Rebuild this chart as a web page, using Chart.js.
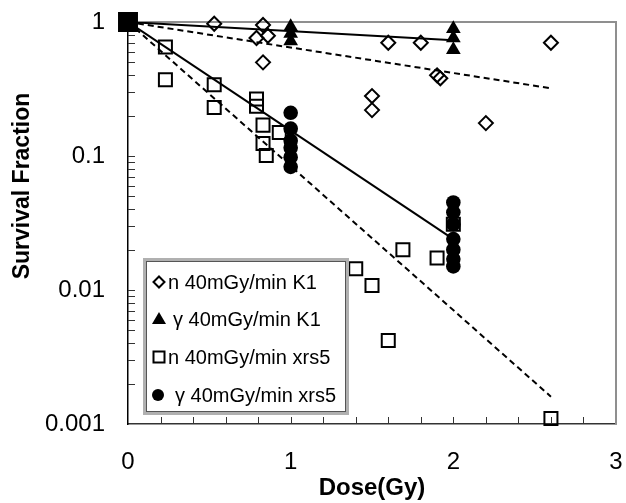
<!DOCTYPE html>
<html><head><meta charset="utf-8">
<script src="https://cdn.jsdelivr.net/npm/chart.js@4"></script>
<style>html,body{margin:0;padding:0;background:#fff}#wrap{width:626px;height:503px}</style>
</head><body><div id="wrap"><canvas id="c" width="626" height="503"></canvas></div>
<script>
// ---- data ----
const nK1Dose = [0.53, 0.83, 0.79, 0.86, 0.83, 1.50, 1.50, 1.60, 1.80, 1.90, 1.92, 2.20, 2.60];
const nK1SF   = [0.97, 0.95, 0.76, 0.79, 0.50, 0.28, 0.22, 0.70, 0.70, 0.40, 0.38, 0.176, 0.70];

const gK1Dose = [1, 1, 1, 2, 2, 2];
const gK1SF   = [0.92, 0.82, 0.72, 0.89, 0.76, 0.62];

const nXrs5Dose = [0, 0.23, 0.23, 0.53, 0.53, 0.79, 0.79, 0.83, 0.83, 0.85, 0.93, 1.40, 1.50, 1.60, 1.69, 1.90, 2.00, 2.60];
const nXrs5SF   = [1, 0.65, 0.37, 0.34, 0.23, 0.266, 0.235, 0.17, 0.124, 0.101, 0.15, 0.0144, 0.0108, 0.0042, 0.020, 0.0173, 0.031, 0.0011];

const gXrs5Dose = [1, 1, 1, 1, 1, 1, 2, 2, 2, 2, 2, 2, 2];
const gXrs5SF   = [0.21, 0.16, 0.13, 0.115, 0.098, 0.083, 0.045, 0.038, 0.031, 0.024, 0.020, 0.017, 0.015];

const fitK1SolidDose = [0, 2];     const fitK1SolidSF = [1, 0.73];
const fitK1DashDose  = [0, 2.6];   const fitK1DashSF  = [1, 0.32];
const fitXrsSolidDose = [0, 2];    const fitXrsSolidSF = [1, 0.024];
const fitXrsDashDose  = [0, 2.6];  const fitXrsDashSF  = [1, 0.0016];

const xTickValues = [0, 1, 2, 3];
const xTickLabels = ['0', '1', '2', '3'];
const yTickValues = [0.001, 0.01, 0.1, 1];
const yTickLabels = ['0.001', '0.01', '0.1', '1'];

const xTitle = 'Dose(Gy)';
const yTitle = 'Survival Fraction';
const legendLabels = ['n 40mGy/min K1', 'γ 40mGy/min K1', 'n 40mGy/min xrs5', 'γ 40mGy/min xrs5'];

const pts = (xs, ys) => xs.map((x, i) => ({x, y: ys[i]}));
const FONT = "'Liberation Sans', Arial, sans-serif";

// ---- plugins ----
const framePlugin = {
  id: 'frame',
  beforeDatasetsDraw(chart) {
    const {ctx, chartArea: a, scales: {x, y}} = chart;
    ctx.save();
    ctx.strokeStyle = '#8f8f8f'; ctx.lineWidth = 2;
    ctx.beginPath();
    ctx.moveTo(a.left, a.top); ctx.lineTo(a.right, a.top); ctx.lineTo(a.right, a.bottom);
    ctx.stroke();
    ctx.strokeStyle = '#333'; ctx.lineWidth = 1;
    ctx.beginPath();
    for (let k = 1; k < 15; k++) {
      const px = Math.round(x.getPixelForValue(k * 0.2)) + 0.5;
      ctx.moveTo(px, a.bottom); ctx.lineTo(px, a.bottom - 7);
    }
    for (let d = -3; d <= -1; d++) {
      for (let m = 2; m <= 10; m++) {
        const py = Math.round(y.getPixelForValue(m * Math.pow(10, d))) + 0.5;
        ctx.moveTo(a.left, py); ctx.lineTo(a.left + 7, py);
      }
    }
    ctx.stroke();
    ctx.fillStyle = '#000';
    ctx.font = 'bold 23px ' + FONT;
    ctx.textAlign = 'center'; ctx.textBaseline = 'middle';
    ctx.translate(23, 186);
    ctx.rotate(-Math.PI / 2);
    ctx.fillText(yTitle, 0, 0);
    ctx.restore();
  },
  afterDraw(chart) {
    const {ctx} = chart;
    const bx = 145, by = 260, bw = 202, bh = 153;
    ctx.save();
    ctx.fillStyle = '#fff';
    ctx.fillRect(bx, by, bw, bh);
    ctx.strokeStyle = '#b0b0b0'; ctx.lineWidth = 4;
    ctx.strokeRect(bx, by, bw, bh);
    ctx.strokeStyle = '#555'; ctx.lineWidth = 1;
    ctx.strokeRect(bx + 1.5, by + 1.5, bw - 3, bh - 3);
    const rows = [282, 319, 357, 395];
    const mx = 159;
    ctx.fillStyle = '#000'; ctx.strokeStyle = '#000'; ctx.lineWidth = 2;
    ctx.beginPath();
    ctx.moveTo(mx, rows[0] - 5.5); ctx.lineTo(mx + 5.5, rows[0]); ctx.lineTo(mx, rows[0] + 5.5); ctx.lineTo(mx - 5.5, rows[0]); ctx.closePath();
    ctx.stroke();
    ctx.beginPath();
    ctx.moveTo(mx, rows[1] - 7); ctx.lineTo(mx + 7, rows[1] + 5); ctx.lineTo(mx - 7, rows[1] + 5); ctx.closePath();
    ctx.fill();
    ctx.strokeRect(mx - 5.5, rows[2] - 5.5, 11, 11);
    ctx.beginPath(); ctx.arc(mx - 1, rows[3], 6, 0, Math.PI * 2); ctx.fill();
    ctx.font = '20px ' + FONT;
    ctx.textBaseline = 'middle'; ctx.textAlign = 'left';
    const tx = [168, 173, 168, 175];
    legendLabels.forEach((t, i) => ctx.fillText(t, tx[i], rows[i] + 1));
    ctx.restore();
  }
};

Chart.defaults.color = '#000';
Chart.defaults.font.family = FONT;

const hiddenGrid = len => ({display: true, drawOnChartArea: false, drawTicks: true, tickLength: len, color: 'rgba(0,0,0,0)'});

new Chart(document.getElementById('c'), {
  type: 'scatter',
  data: {
    datasets: [
      {label: legendLabels[0], data: pts(nK1Dose, nK1SF), pointStyle: 'rectRot', pointRadius: 7,
       pointBorderWidth: 2, pointBorderColor: '#000', pointBackgroundColor: 'rgba(0,0,0,0)', clip: false},
      {label: legendLabels[1], data: pts(gK1Dose, gK1SF), pointStyle: 'triangle', pointRadius: 8.5,
       pointBorderWidth: 0, pointBorderColor: '#000', pointBackgroundColor: '#000', clip: false},
      {label: legendLabels[2], data: pts(nXrs5Dose, nXrs5SF), pointStyle: 'rect',
       pointRadius: nXrs5Dose.map(d => d === 0 ? 12.7 : 9.2),
       pointBorderWidth: 2, pointBorderColor: '#000',
       pointBackgroundColor: nXrs5Dose.map(d => d === 0 ? '#000' : 'rgba(0,0,0,0)'), clip: false},
      {label: legendLabels[3], data: pts(gXrs5Dose, gXrs5SF), pointStyle: 'circle', pointRadius: 7.3,
       pointBorderWidth: 0, pointBackgroundColor: '#000', clip: false},
      {data: pts(fitK1SolidDose, fitK1SolidSF), showLine: true, pointRadius: 0, borderColor: '#000', borderWidth: 2},
      {data: pts(fitK1DashDose, fitK1DashSF), showLine: true, pointRadius: 0, borderColor: '#000', borderWidth: 2, borderDash: [6, 4]},
      {data: pts(fitXrsSolidDose, fitXrsSolidSF), showLine: true, pointRadius: 0, borderColor: '#000', borderWidth: 2},
      {data: pts(fitXrsDashDose, fitXrsDashSF), showLine: true, pointRadius: 0, borderColor: '#000', borderWidth: 2, borderDash: [6, 4]}
    ]
  },
  options: {
    responsive: false,
    animation: false,
    events: [],
    layout: {autoPadding: false, padding: {top: 22, right: 10, left: 0, bottom: 0}},
    plugins: {legend: {display: false}, tooltip: {enabled: false}},
    scales: {
      x: {
        type: 'linear', min: 0, max: 3,
        afterFit: s => { s.height = 79; s.paddingLeft = 0; s.paddingRight = 0; },
        afterBuildTicks: s => { s.ticks = xTickValues.map(v => ({value: v})); },
        grid: hiddenGrid(24),
        border: {display: true, color: '#333', width: 1.5},
        ticks: {padding: 0, font: {size: 24}, color: '#000',
                callback: v => xTickLabels[xTickValues.indexOf(v)]},
        title: {display: true, text: xTitle, font: {size: 24, weight: 'bold'}, color: '#000', padding: {top: 0, bottom: 0}}
      },
      y: {
        type: 'logarithmic', min: 0.001, max: 1,
        afterFit: s => { s.width = 128; s.paddingTop = 0; s.paddingBottom = 0; },
        afterBuildTicks: s => { s.ticks = yTickValues.map(v => ({value: v})); },
        grid: hiddenGrid(23),
        border: {display: true, color: '#000', width: 1.5},
        ticks: {padding: 0, font: {size: 24}, color: '#000',
                callback: v => yTickLabels[yTickValues.indexOf(v)]},
        title: {display: false}
      }
    }
  },
  plugins: [framePlugin]
});
</script></body></html>
